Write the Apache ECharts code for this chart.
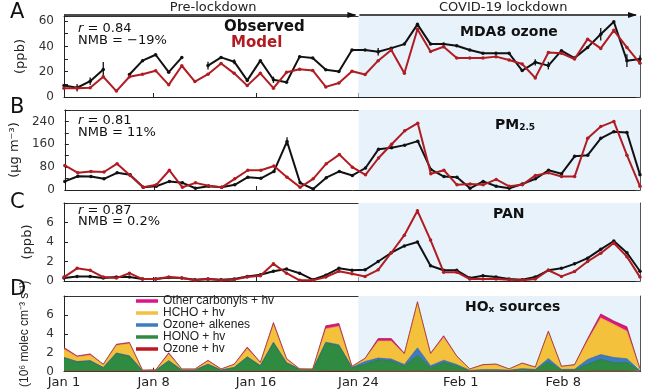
<!DOCTYPE html>
<html><head><meta charset="utf-8">
<script src="https://cdn.jsdelivr.net/npm/echarts@6/dist/echarts.min.js"></script>
<style>html,body{margin:0;padding:0;background:#fff}#c{width:650px;height:390px}</style>
</head><body><div id="c"></div>
<script>
// ---------- data (daily, Jan 1 .. Feb 14) ----------
const tickIdx = [0, 7, 15, 23, 31, 39];
const tickLabels = ['Jan 1', 'Jan 8', 'Jan 16', 'Jan 24', 'Feb 1', 'Feb 8'];
const lockdownTick = 3; // tick that starts the lockdown (Jan 24)
const slotCount = 46;   // day slots on the date axis

const obsOzone = [9.1,7.3,12.5,21.7,null,17.8,28.7,33.4,19.6,31.3,null,24.8,31.3,27.9,13.1,28.7,13.6,11.7,31.9,30.8,21.5,20.1,37.1,37.1,35.8,38.6,41.8,57.4,41.8,41.8,40.5,37.1,34.5,34.5,34.5,20.9,27.4,24.8,36.6,30.8,39.2,49.6,59.5,28.7,30];
const modOzone = [7,7,7.3,16,4.7,16,18,20.8,9.6,24.7,12.2,18,26.5,18.7,9,18.7,7,19.5,22,21,8,11,20.4,17.8,28.7,37.1,18.8,53.5,36,39.7,30.8,30.8,30.8,31.9,29.2,26.1,15.1,35.2,34.5,30,45.7,38.4,52.7,39.2,26.6];
const errOzone = [null,3,3,6,null,null,null,null,null,null,null,3,null,2,null,null,2.5,null,null,null,null,null,null,null,3,null,null,null,null,null,null,null,null,null,null,null,2.5,3,null,null,null,5,null,5,3];

const obsPM = [30,48,47,39,60,53,9.5,13,30,25,6,13,9.5,18,45,41,65,170,25,3.5,43,65,51,77,143,148,157,171,72,47,45,6,30,13,6,21,39,69,57,118,122,181,204,201,53];
const modPM = [86,60,65,63,92,51,9.5,18,69,9.5,25,15,9.5,39,69,69,84,45,9.5,39,92,124,80,53,112,160,207,234,57,69,18,21,18,37,13,18,51,60,47,47,181,222,240,122,13];
const errPM = [null,null,null,null,null,null,null,null,null,null,null,null,null,null,null,null,null,15,null,null,null,null,null,null,null,null,null,null,null,null,null,null,null,null,null,null,null,null,null,null,null,null,null,null,null];

const obsPAN = [0.3,0.47,0.47,0.3,0.4,0.4,0.2,0.2,0.37,0.3,0.14,0.2,0.14,0.2,0.47,0.64,1.0,1.22,0.8,0.14,0.6,1.3,1.1,1.15,2.0,2.9,3.6,4.0,1.56,1.1,1.1,0.3,0.54,0.4,0.2,0.14,0.4,1.1,1.3,1.76,2.34,3.25,4.1,2.9,1.0];
const modPAN = [0.4,1.3,1.1,0.4,0.3,0.8,0.2,0.2,0.4,0.3,0.07,0.2,0.07,0.14,0.4,0.55,1.76,0.8,0.07,0.07,0.4,1.0,0.75,0.47,1.15,2.9,4.7,7.2,4.2,0.9,0.9,0.2,0.2,0.2,0.14,0.07,0.2,1.1,0.47,0.97,2.0,2.85,3.9,2.5,0.4];

const ozoneHv   = [0.03,0.03,0.03,0.02,0.03,0.03,0.01,0.01,0.03,0.01,0.01,0.02,0.01,0.02,0.03,0.02,0.04,0.02,0.01,0.01,0.04,0.04,0.02,0.03,0.04,0.04,0.03,0.05,0.03,0.04,0.03,0.02,0.02,0.02,0.02,0.02,0.02,0.04,0.02,0.02,0.04,0.05,0.05,0.05,0.02];
const hono      = [1.43,1.0,1.1,0.4,1.9,1.6,0.1,0.12,1.1,0.15,0.15,0.75,0.15,0.4,1.5,0.6,3.0,0.9,0.25,0.2,3.0,2.7,0.4,0.75,1.2,1.1,0.58,1.67,0.4,0.92,0.58,0.07,0.14,0.14,0.1,0.24,0.17,1.0,0.17,0.17,0.75,1.26,0.9,0.92,0.07];
const alkenes   = [0.05,0.05,0.05,0.03,0.05,0.05,0.01,0.01,0.04,0.02,0.02,0.03,0.02,0.03,0.05,0.03,0.08,0.04,0.01,0.01,0.08,0.1,0.05,0.3,0.2,0.2,0.15,0.8,0.2,0.25,0.15,0.05,0.06,0.06,0.04,0.06,0.05,0.35,0.05,0.06,0.5,0.5,0.55,0.4,0.04];
const hcho      = [0.9,0.49,0.58,0.3,0.82,1.3,0.03,0.04,0.71,0.09,0.09,0.34,0.09,0.3,0.87,0.29,1.88,0.36,0.01,0.06,1.43,1.96,0.07,0.3,1.81,1.91,1.11,4.76,1.24,2.44,0.85,0.14,0.49,0.55,0.12,0.56,0.23,2.81,0.31,0.46,2.01,3.89,3.51,2.92,0.15];
const carbonyls = [0.15,0.1,0.12,0.05,0.1,0.12,0.02,0.02,0.12,0.03,0.03,0.06,0.03,0.05,0.15,0.06,0.2,0.08,0.02,0.02,0.3,0.3,0.04,0.05,0.25,0.25,0.08,0.12,0.08,0.15,0.06,0.02,0.04,0.05,0.02,0.04,0.03,0.1,0.03,0.04,0.2,0.4,0.35,0.45,0.02];

// ---------- styling ----------
const F = 'DejaVu Sans';
const OBS = '#111111', MOD = '#b01c22', SHADE = '#e7f2fa';
const slots = Array.from({length: slotCount}, (_, i) => String(i));
const N = obsOzone.length;
const daySlots = Array.from({length: N}, (_, i) => 'd' + i);
const grids = [
  {left: 64, right: 10, top: 16, height: 81},
  {left: 64, right: 10, top: 110, height: 80},
  {left: 64, right: 10, top: 203, height: 78},
  {left: 64, right: 10, top: 296, height: 77.5}
];
const yCfg = [
  {max: 64, interval: 10, every: 20, name: '(ppb)', gap: 37, fs: 13, ff: F},
  {max: 280, interval: 40, every: 80, name: '(μg m⁻³)', gap: 39, fs: 13, ff: F},
  {max: 8, interval: 2, every: 2, name: '(ppb)', gap: 30, fs: 13, ff: F},
  {max: 8, interval: 2, every: 2, name: '(10⁶ molec cm⁻³ s⁻¹)', gap: 33, fs: 12, ff: 'Liberation Sans'}
];

const xAxis = [], yAxis = [];
grids.forEach((g, gi) => {
  xAxis.push({gridIndex: gi, type: 'category', data: daySlots, boundaryGap: false, show: false});
  xAxis.push({
    gridIndex: gi, type: 'category', data: slots, boundaryGap: false, position: 'bottom',
    axisLine: {show: true, lineStyle: {color: '#222', width: 1}},
    axisTick: {show: true, inside: true, length: 4, interval: (i) => tickIdx.includes(i), lineStyle: {color: '#222'}},
    axisLabel: {show: gi === 3, interval: (i) => tickIdx.includes(i), margin: 4,
      fontFamily: F, fontSize: 13, color: '#222',
      formatter: (v) => { const k = tickIdx.indexOf(+v); return k >= 0 ? tickLabels[k] : ''; }},
    splitLine: {show: false}
  });
  xAxis.push({
    gridIndex: gi, type: 'category', data: slots, boundaryGap: false, position: 'top',
    axisLine: {show: true, lineStyle: {color: '#333', width: 1}},
    axisTick: {show: false}, axisLabel: {show: false}, splitLine: {show: false}
  });
  const c = yCfg[gi];
  yAxis.push({
    gridIndex: gi, type: 'value', min: 0, max: c.max, interval: c.interval, position: 'left',
    axisLine: {show: true, lineStyle: {color: '#222'}},
    axisTick: {show: true, inside: true, length: 4, lineStyle: {color: '#222'}},
    axisLabel: {fontFamily: F, fontSize: 12, color: '#333', margin: 10,
      formatter: (v) => (v % c.every === 0 && v < c.max) ? String(v) : ''},
    splitLine: {show: false},
    name: c.name, nameLocation: 'middle', nameGap: c.gap, nameRotate: 90,
    nameTextStyle: {fontFamily: c.ff, fontSize: c.fs, color: '#222'}
  });
  yAxis.push({
    gridIndex: gi, type: 'value', min: 0, max: c.max, interval: c.interval, position: 'right',
    axisLine: {show: true, lineStyle: {color: '#555'}},
    axisTick: {show: true, inside: true, length: 4, lineStyle: {color: '#444'}},
    axisLabel: {show: false}, splitLine: {show: false}
  });
});

const errData = (obs, err) => obs.map((v, i) => (v != null && err[i] != null) ? [i, v - err[i], v + err[i]] : null).filter(Boolean);
const lineS = (name, arr, gi, color, z) => ({
  name, type: 'line', xAxisIndex: gi * 3, yAxisIndex: gi * 2, data: arr,
  symbol: 'circle', symbolSize: 3.5, connectNulls: false, z,
  lineStyle: {color, width: 2}, itemStyle: {color}, emphasis: {disabled: true}
});
const errS = (obs, err, gi) => ({
  type: 'custom', xAxisIndex: gi * 3, yAxisIndex: gi * 2, data: errData(obs, err), z: 4,
  renderItem: (params, api) => {
    const p1 = api.coord([api.value(0), api.value(1)]);
    const p2 = api.coord([api.value(0), api.value(2)]);
    return {type: 'line', shape: {x1: p1[0], y1: p1[1], x2: p2[0], y2: p2[1]}, style: {stroke: OBS, lineWidth: 1.3}};
  }
});

const series = [];
grids.forEach((g, gi) => {
  series.push({
    type: 'line', xAxisIndex: gi * 3 + 1, yAxisIndex: gi * 2, data: [], z: 1, silent: true,
    markArea: {silent: true, itemStyle: {color: SHADE},
      data: [[{xAxis: String(tickIdx[lockdownTick])}, {xAxis: String(slotCount - 1)}]]}
  });
});
series.push(lineS('Observed ozone', obsOzone, 0, OBS, 3));
series.push(errS(obsOzone, errOzone, 0));
series.push(lineS('Model ozone', modOzone, 0, MOD, 5));
series.push(lineS('Observed PM', obsPM, 1, OBS, 3));
series.push(errS(obsPM, errPM, 1));
series.push(lineS('Model PM', modPM, 1, MOD, 5));
series.push(lineS('Observed PAN', obsPAN, 2, OBS, 3));
series.push(lineS('Model PAN', modPAN, 2, MOD, 5));

const areaDefs = [
  ['Ozone + hv', ozoneHv, '#c0161e', '#8a0f14'],
  ['HONO + hv', hono, '#2e8b41', '#23692f'],
  ['Ozone+ alkenes', alkenes, '#3d7cc0', '#2d5f94'],
  ['HCHO + hv', hcho, '#f4c13d', '#d9a52a'],
  ['Other carbonyls + hv', carbonyls, '#e0128a', '#9c1a3c']
];
areaDefs.forEach(([name, arr, col, edge]) => {
  series.push({
    name, type: 'line', xAxisIndex: 9, yAxisIndex: 6, data: arr, stack: 'hox',
    symbol: 'none', z: 3, areaStyle: {color: col, opacity: 1},
    lineStyle: {color: edge, width: 0.7}, itemStyle: {color: col}, emphasis: {disabled: true}
  });
});

const chart = echarts.init(document.getElementById('c'), null, {renderer: 'canvas'});
chart.setOption({
  animation: false,
  backgroundColor: '#fff',
  grid: grids,
  xAxis, yAxis, series,
  legend: {
    data: ['Other carbonyls + hv', 'HCHO + hv', 'Ozone+ alkenes', 'HONO + hv', 'Ozone + hv'],
    orient: 'vertical', left: 136, top: 295, padding: 0, itemGap: 0,
    itemWidth: 22, itemHeight: 3.5, icon: 'rect', selectedMode: false,
    textStyle: {fontFamily: 'Liberation Sans', fontSize: 12, lineHeight: 11, color: '#222'}
  }
});

// ---------- annotations ----------
const xL = chart.convertToPixel({xAxisIndex: 1}, String(tickIdx[lockdownTick]));
const x0 = chart.convertToPixel({xAxisIndex: 1}, slots[0]);
const x1 = chart.convertToPixel({xAxisIndex: 1}, slots[slotCount - 1]);
const ay = 15;
const txt = (text, x, y, o = {}) => ({type: 'text', x, y, z: 50,
  style: Object.assign({text, fontFamily: F, fontSize: 13, fill: '#111', verticalAlign: 'top'}, o)});
const head = (tip) => ({type: 'polygon', z: 50, shape: {points: [[tip, ay], [tip - 9, ay - 3], [tip - 9, ay + 3]]}, style: {fill: '#111'}});
const rich = {i: {fontStyle: 'italic', fontFamily: F, fontSize: 13}};
const bold = (t, x, y, o = {}) => txt(t, x, y, Object.assign({fontFamily: F, fontWeight: 'bold', fontSize: 14}, o));

chart.setOption({graphic: [
  {type: 'line', z: 50, shape: {x1: x0, y1: ay, x2: xL - 3, y2: ay}, style: {stroke: '#111', lineWidth: 1.5}},
  head(xL - 2),
  {type: 'line', z: 50, shape: {x1: xL + 1, y1: ay, x2: x1 - 4, y2: ay}, style: {stroke: '#111', lineWidth: 1.5}},
  head(x1 - 3),
  txt('Pre-lockdown', (x0 + xL) / 2 + 2, 8, {fontSize: 13, align: 'center', verticalAlign: 'middle', fill: '#222'}),
  txt('COVID-19 lockdown', (xL + x1) / 2 + 4, 8, {fontSize: 13, align: 'center', verticalAlign: 'middle', fill: '#222'}),
  txt('A', 10, 2, {fontSize: 21}),
  txt('B', 10, 97, {fontSize: 21}),
  txt('C', 10, 192, {fontSize: 21}),
  txt('D', 10, 279, {fontSize: 21}),
  txt('{i|r} = 0.84', 78, 22, {rich}),
  txt('NMB = −19%', 78, 34.5),
  txt('{i|r} = 0.81', 78, 114.5, {rich}),
  txt('NMB = 11%', 78, 126),
  txt('{i|r} = 0.87', 78, 204, {rich}),
  txt('NMB = 0.2%', 78, 215.5),
  bold('Observed', 224, 20, {fontSize: 15}),
  bold('Model', 231, 36, {fontSize: 15, fill: MOD}),
  bold('MDA8 ozone', 460, 25),
  txt('{b|PM}{s|2.5}', 495, 118, {rich: {b: {fontFamily: F, fontWeight: 'bold', fontSize: 14, lineHeight: 14}, s: {fontFamily: F, fontWeight: 'bold', fontSize: 9, lineHeight: 14, verticalAlign: 'bottom'}}}),
  bold('PAN', 493, 207),
  txt('{b|HO}{s|x}{b| sources}', 465, 300, {rich: {b: {fontFamily: F, fontWeight: 'bold', fontSize: 14, lineHeight: 14}, s: {fontFamily: F, fontWeight: 'bold', fontSize: 9, lineHeight: 14, verticalAlign: 'bottom'}}})
]});
</script>
</body></html>
